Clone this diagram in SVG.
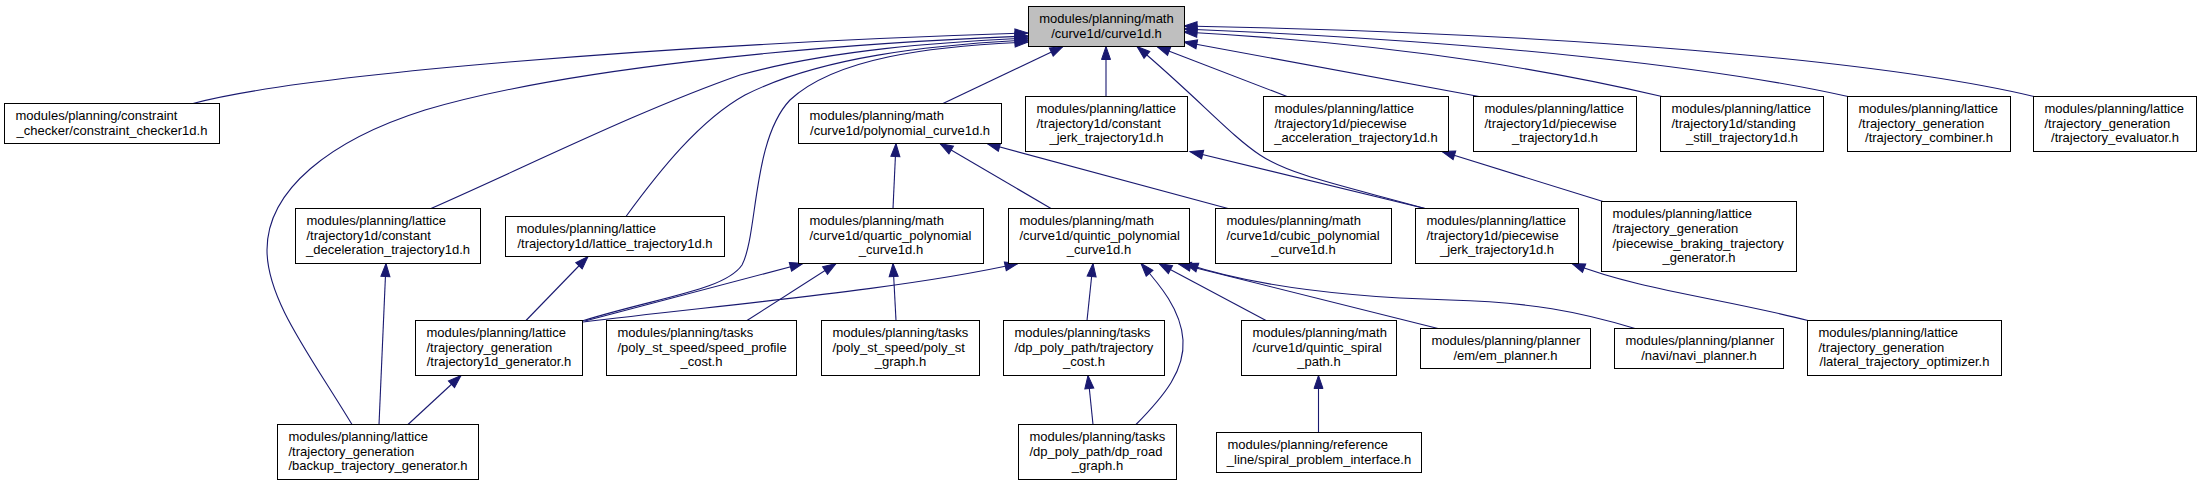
<svg xmlns="http://www.w3.org/2000/svg" width="2201" height="485" viewBox="0 0 2201 485">
<defs>
<marker id="ah" markerWidth="13" markerHeight="10" refX="13" refY="5" orient="auto" markerUnits="userSpaceOnUse" overflow="visible">
<path d="M0,0.5 L13,5 L0,9.5 z" fill="#191970" stroke="#191970" stroke-width="1"/>
</marker>
<style>
rect{fill:#ffffff;stroke:#000000;stroke-width:1}
.root rect{fill:#bfbfbf}
text{font-family:"Liberation Sans",Arial,Helvetica,sans-serif;font-size:13px;fill:#000000}
.m{text-anchor:middle}
.e path{fill:none;stroke:#191970;stroke-width:1.1;marker-end:url(#ah)}
</style>
</defs>
<rect x="0" y="0" width="2201" height="485" style="fill:#ffffff;stroke:none"/>

<g class="e" id="edges">
<path d="M193,103.5 C300,75 650,45 1028,33"/>
<path d="M352,424.5 C310,355 267,300 267,250 C267,190 330,140 425,110 C560,70 800,45 1028,36"/>
<path d="M431,208.5 C530,165 640,110 740,75 C830,50 940,42 1028,38"/>
<path d="M626,216.5 C660,170 700,120 745,95 C820,57 930,45 1028,40"/>
<path d="M582,321 C660,297 725,290 742,265 C758,235 752,140 790,100 C835,58 930,46 1028,42"/>
<path d="M943,103.5 L1063,46.5"/>
<path d="M1106,96.5 L1106,46.5"/>
<path d="M1425,208.5 C1340,185 1290,175 1260,155 C1230,135 1200,100 1137,46.5"/>
<path d="M1287,96.5 L1157,46.5"/>
<path d="M1479,96.5 L1184,42"/>
<path d="M1662,96.5 C1570,75 1420,45 1184,32"/>
<path d="M1848,96.5 C1720,68 1500,42 1184,29"/>
<path d="M2034,96.5 C1880,60 1560,33 1184,26"/>
<path d="M893,208.5 L896,143.5"/>
<path d="M1051,208.5 L940,143.5"/>
<path d="M1228,208.5 L987,143.5"/>
<path d="M585,321 L803,263.5"/>
<path d="M747,320.5 L836,263.5"/>
<path d="M896,320.5 L893,263.5"/>
<path d="M583,322 C720,305 900,290 1018,263.5"/>
<path d="M1087,320.5 L1093,263.5"/>
<path d="M1136,424.5 C1165,395 1185,370 1183,340 C1181,310 1160,285 1141,263.5"/>
<path d="M1266,320.5 L1159,263.5"/>
<path d="M1438,328.5 L1178,263.5"/>
<path d="M1635,328.5 C1580,312 1530,302 1450,300 C1340,297 1250,285 1185,263.5"/>
<path d="M526,320.5 L588,256.5"/>
<path d="M379,424.5 L386,263.5"/>
<path d="M408,424.5 L461,375.5"/>
<path d="M1093,424.5 L1088,375.5"/>
<path d="M1318.5,432.5 L1318.5,375.5"/>
<path d="M1425,208.5 L1190,151.5"/>
<path d="M1603,201.5 L1442,151.5"/>
<path d="M1808,320.5 C1720,298 1640,290 1572,263.5"/>
</g>

<g id="n0" class="root"><rect x="1028.5" y="6.5" width="156" height="40"/>
<text class="m" x="1106.5" y="22.9">modules/planning/math</text><text class="m" x="1106.5" y="37.6">/curve1d/curve1d.h</text></g>

<g id="n1"><rect x="4.5" y="103.5" width="215" height="40"/>
<text x="15.5" y="119.9">modules/planning/constraint</text><text class="m" x="112" y="134.6">_checker/constraint_checker1d.h</text></g>
<g id="n2"><rect x="798.5" y="103.5" width="203" height="40"/>
<text x="809.5" y="119.9">modules/planning/math</text><text class="m" x="900" y="134.6">/curve1d/polynomial_curve1d.h</text></g>
<g id="n3"><rect x="1025.5" y="96.5" width="162" height="55"/>
<text x="1036.5" y="113">modules/planning/lattice</text><text x="1036.5" y="127.7">/trajectory1d/constant</text><text class="m" x="1106.5" y="142.4">_jerk_trajectory1d.h</text></g>
<g id="n4"><rect x="1263.5" y="96.5" width="185" height="55"/>
<text x="1274.5" y="113">modules/planning/lattice</text><text x="1274.5" y="127.7">/trajectory1d/piecewise</text><text class="m" x="1356" y="142.4">_acceleration_trajectory1d.h</text></g>
<g id="n5"><rect x="1473.5" y="96.5" width="163" height="55"/>
<text x="1484.5" y="113">modules/planning/lattice</text><text x="1484.5" y="127.7">/trajectory1d/piecewise</text><text class="m" x="1555" y="142.4">_trajectory1d.h</text></g>
<g id="n6"><rect x="1660.5" y="96.5" width="163" height="55"/>
<text x="1671.5" y="113">modules/planning/lattice</text><text x="1671.5" y="127.7">/trajectory1d/standing</text><text class="m" x="1742" y="142.4">_still_trajectory1d.h</text></g>
<g id="n7"><rect x="1847.5" y="96.5" width="163" height="55"/>
<text x="1858.5" y="113">modules/planning/lattice</text><text x="1858.5" y="127.7">/trajectory_generation</text><text class="m" x="1929" y="142.4">/trajectory_combiner.h</text></g>
<g id="n8"><rect x="2033.5" y="96.5" width="163" height="55"/>
<text x="2044.5" y="113">modules/planning/lattice</text><text x="2044.5" y="127.7">/trajectory_generation</text><text class="m" x="2115" y="142.4">/trajectory_evaluator.h</text></g>

<g id="n9"><rect x="295.5" y="208.5" width="185" height="55"/>
<text x="306.5" y="225">modules/planning/lattice</text><text x="306.5" y="239.7">/trajectory1d/constant</text><text class="m" x="388" y="254.4">_deceleration_trajectory1d.h</text></g>
<g id="n10"><rect x="505.5" y="216.5" width="219" height="40"/>
<text x="516.5" y="232.9">modules/planning/lattice</text><text class="m" x="615" y="247.6">/trajectory1d/lattice_trajectory1d.h</text></g>
<g id="n11"><rect x="798.5" y="208.5" width="185" height="55"/>
<text x="809.5" y="225">modules/planning/math</text><text x="809.5" y="239.7">/curve1d/quartic_polynomial</text><text class="m" x="891" y="254.4">_curve1d.h</text></g>
<g id="n12"><rect x="1008.5" y="208.5" width="181" height="55"/>
<text x="1019.5" y="225">modules/planning/math</text><text x="1019.5" y="239.7">/curve1d/quintic_polynomial</text><text class="m" x="1099" y="254.4">_curve1d.h</text></g>
<g id="n13"><rect x="1215.5" y="208.5" width="176" height="55"/>
<text x="1226.5" y="225">modules/planning/math</text><text x="1226.5" y="239.7">/curve1d/cubic_polynomial</text><text class="m" x="1303.5" y="254.4">_curve1d.h</text></g>
<g id="n14"><rect x="1415.5" y="208.5" width="163" height="55"/>
<text x="1426.5" y="225">modules/planning/lattice</text><text x="1426.5" y="239.7">/trajectory1d/piecewise</text><text class="m" x="1497" y="254.4">_jerk_trajectory1d.h</text></g>
<g id="n15"><rect x="1601.5" y="201.5" width="195" height="70"/>
<text x="1612.5" y="218.2">modules/planning/lattice</text><text x="1612.5" y="232.9">/trajectory_generation</text><text x="1612.5" y="247.6">/piecewise_braking_trajectory</text><text class="m" x="1699" y="262.3">_generator.h</text></g>

<g id="n16"><rect x="415.5" y="320.5" width="167" height="55"/>
<text x="426.5" y="337">modules/planning/lattice</text><text x="426.5" y="351.7">/trajectory_generation</text><text class="m" x="499" y="366.4">/trajectory1d_generator.h</text></g>
<g id="n17"><rect x="606.5" y="320.5" width="190" height="55"/>
<text x="617.5" y="337">modules/planning/tasks</text><text x="617.5" y="351.7">/poly_st_speed/speed_profile</text><text class="m" x="701.5" y="366.4">_cost.h</text></g>
<g id="n18"><rect x="821.5" y="320.5" width="158" height="55"/>
<text x="832.5" y="337">modules/planning/tasks</text><text x="832.5" y="351.7">/poly_st_speed/poly_st</text><text class="m" x="900.5" y="366.4">_graph.h</text></g>
<g id="n19"><rect x="1003.5" y="320.5" width="161" height="55"/>
<text x="1014.5" y="337">modules/planning/tasks</text><text x="1014.5" y="351.7">/dp_poly_path/trajectory</text><text class="m" x="1084" y="366.4">_cost.h</text></g>
<g id="n20"><rect x="1241.5" y="320.5" width="155" height="55"/>
<text x="1252.5" y="337">modules/planning/math</text><text x="1252.5" y="351.7">/curve1d/quintic_spiral</text><text class="m" x="1319" y="366.4">_path.h</text></g>
<g id="n21"><rect x="1420.5" y="328.5" width="170" height="40"/>
<text x="1431.5" y="344.9">modules/planning/planner</text><text class="m" x="1505.5" y="359.6">/em/em_planner.h</text></g>
<g id="n22"><rect x="1614.5" y="328.5" width="169" height="40"/>
<text x="1625.5" y="344.9">modules/planning/planner</text><text class="m" x="1699" y="359.6">/navi/navi_planner.h</text></g>
<g id="n23"><rect x="1807.5" y="320.5" width="194" height="55"/>
<text x="1818.5" y="337">modules/planning/lattice</text><text x="1818.5" y="351.7">/trajectory_generation</text><text class="m" x="1904.5" y="366.4">/lateral_trajectory_optimizer.h</text></g>

<g id="n24"><rect x="277.5" y="424.5" width="201" height="55"/>
<text x="288.5" y="441">modules/planning/lattice</text><text x="288.5" y="455.7">/trajectory_generation</text><text class="m" x="378" y="470.4">/backup_trajectory_generator.h</text></g>
<g id="n25"><rect x="1018.5" y="424.5" width="158" height="55"/>
<text x="1029.5" y="441">modules/planning/tasks</text><text x="1029.5" y="455.7">/dp_poly_path/dp_road</text><text class="m" x="1097.5" y="470.4">_graph.h</text></g>
<g id="n26"><rect x="1216.5" y="432.5" width="205" height="40"/>
<text x="1227.5" y="448.9">modules/planning/reference</text><text class="m" x="1319" y="463.6">_line/spiral_problem_interface.h</text></g>
</svg>
